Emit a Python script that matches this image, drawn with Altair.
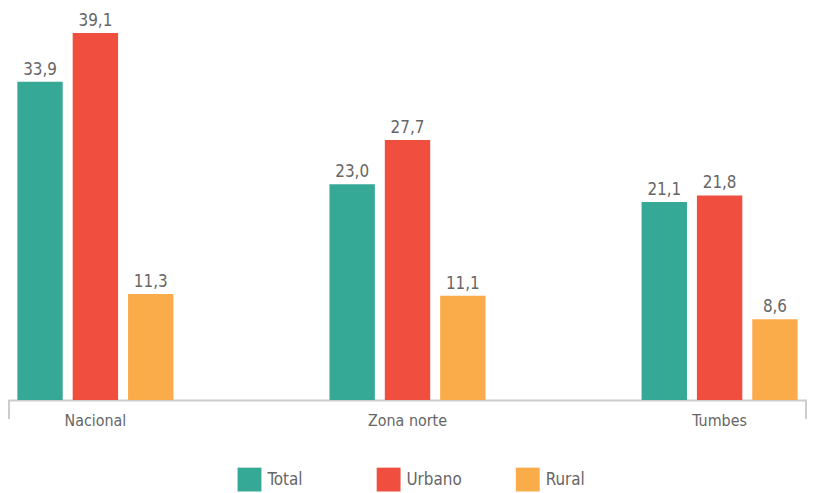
import altair as alt
import pandas as pd

groups = ["Nacional", "Zona norte", "Tumbes"]
series = ["Total", "Urbano", "Rural"]
total = [33.9, 23.0, 21.1]
urbano = [39.1, 27.7, 21.8]
rural = [11.3, 11.1, 8.6]
colors = ["#36A896", "#F04E3E", "#FAAC4B"]

rows = []
for i, g in enumerate(groups):
    for s, vals in zip(series, [total, urbano, rural]):
        rows.append({"grupo": g, "serie": s, "valor": vals[i]})
df = pd.DataFrame(rows)

FONT = "DejaVu Sans Condensed"
TXT = "#666666"
W, H = 804, 393

x = alt.X("grupo:N", sort=groups, title=None,
          scale=alt.Scale(paddingInner=0.5, paddingOuter=0.03),
          axis=alt.Axis(labelAngle=0, ticks=False, domainColor="#cccccc", domainWidth=2,
                        labelFont=FONT, labelFontSize=16, labelColor=TXT, labelPadding=13))
xo = alt.XOffset("serie:N", sort=series, scale=alt.Scale(paddingInner=0.18, paddingOuter=0))
y = alt.Y("valor:Q", axis=None, scale=alt.Scale(domain=[0, 41.6], nice=False))
color = alt.Color("serie:N", sort=series,
                  scale=alt.Scale(domain=series, range=colors),
                  legend=alt.Legend(title=None, orient="none", legendX=231, legendY=461,
                                    direction="horizontal", symbolType="square", symbolSize=576,
                                    symbolStrokeWidth=0, symbolOpacity=1, labelFont=FONT,
                                    labelFontSize=17, labelColor=TXT, gridAlign="all",
                                    columnPadding=54, labelOffset=6))

base = alt.Chart(df)
bars = base.mark_bar().encode(x=x, xOffset=xo, y=y, color=color)
labels = base.transform_calculate(
    lab="replace(format(datum.valor, '.1f'), '.', ',')"
).mark_text(baseline="alphabetic", dy=-7, font=FONT, fontSize=17, color=TXT).encode(
    x=x, xOffset=xo, y=y, text="lab:N")

ends = pd.DataFrame({"p": [0, 1]})
tick_l = alt.Chart(ends).mark_rule(color="#cccccc", strokeWidth=2).encode(
    x=alt.value(1), y=alt.value(H), y2=alt.value(H + 19))
tick_r = alt.Chart(ends).mark_rule(color="#cccccc", strokeWidth=2).encode(
    x=alt.value(W - 1), y=alt.value(H), y2=alt.value(H + 19))

chart = alt.layer(bars, labels, tick_l, tick_r).properties(
    width=W, height=H,
    autosize=alt.AutoSizeParams(type="none"),
    padding={"left": 0, "top": 0, "right": 0, "bottom": 92}
).configure_view(stroke=None)

chart.save("out.html", embed_options={"renderer": "svg", "actions": False})
